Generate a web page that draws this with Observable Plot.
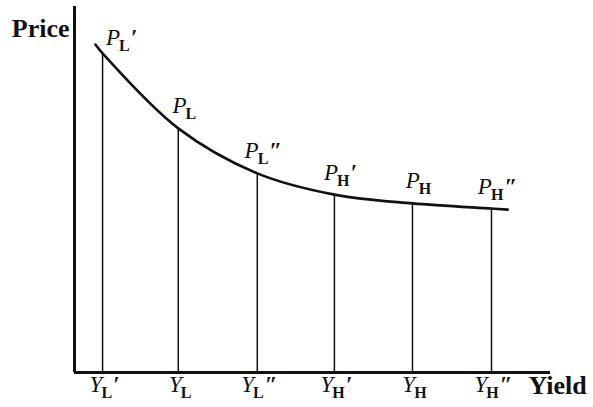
<!DOCTYPE html>
<html>
<head>
<meta charset="utf-8">
<script src="https://cdn.jsdelivr.net/npm/d3@7"></script>
<script src="https://cdn.jsdelivr.net/npm/@observablehq/plot@0.6"></script>
<style>
  html, body { margin: 0; padding: 0; background: white; }
  svg { display: block; }
</style>
</head>
<body>
<div id="chart"></div>
<script>
// Six marked yield levels and their prices on the curve
const yieldLevels = [0.59, 2.18, 3.84, 5.46, 7.10, 8.76];
const priceLevels = [8.72, 6.67, 5.44, 4.86, 4.62, 4.48];
// Curve trace (includes ends beyond the marked points)
const curveYield = [0.44, 0.59, 2.18, 3.84, 5.46, 7.10, 8.76, 9.10];
const curvePrice = [8.96, 8.72, 6.67, 5.44, 4.86, 4.62, 4.48, 4.45];
// Labels: first char = main letter, second = subscript, rest = primes
const priceLabels = ["PL\u2032", "PL", "PL\u2033", "PH\u2032", "PH", "PH\u2033"];
const yieldLabels = ["YL\u2032", "YL", "YL\u2033", "YH\u2032", "YH", "YH\u2033"];
const axisTitleY = "Price";
const axisTitleX = "Yield";

const points = yieldLevels.map((x, i) => ({x, p: priceLevels[i], pl: priceLabels[i], yl: yieldLabels[i], i}));
const curve = curveYield.map((x, i) => ({x, p: curvePrice[i]}));

const font = "'Liberation Serif', 'DejaVu Serif', serif";

const chart = Plot.plot({
  width: 593,
  height: 407,
  marginLeft: 74,
  marginRight: 43,
  marginTop: 6,
  marginBottom: 35,
  x: {domain: [0, 10], axis: null},
  y: {domain: [0, 10], axis: null},
  style: {fontFamily: font, background: "white", color: "#111"},
  marks: [
    Plot.ruleX(points, {x: "x", y1: 0, y2: "p", stroke: "#111", strokeWidth: 1.5}),
    Plot.line(curve, {x: "x", y: "p", curve: "catmull-rom", stroke: "#111", strokeWidth: 2.6}),
    Plot.ruleX([0], {stroke: "#111", strokeWidth: 3}),
    Plot.ruleY([0], {stroke: "#111", strokeWidth: 3}),
    Plot.text(points, {filter: d => d.i === 0, x: "x", y: "p", text: "pl", textAnchor: "middle", lineAnchor: "bottom", dx: 19, dy: -8, fontSize: 23, fill: "#111", fontFamily: font}),
    Plot.text(points, {filter: d => d.i > 0, x: "x", y: "p", text: "pl", textAnchor: "middle", lineAnchor: "bottom", dx: 6, dy: -15, fontSize: 23, fill: "#111", fontFamily: font}),
    Plot.text(points, {x: "x", y: 0, text: "yl", textAnchor: "middle", lineAnchor: "bottom", dx: 2, dy: 19, fontSize: 23, fill: "#111", fontFamily: font}),
    Plot.text([axisTitleY], {frameAnchor: "top-left", text: d => d, textAnchor: "end", lineAnchor: "bottom", dx: -5, dy: 30, fontSize: 26, fontWeight: "bold", fill: "#111", fontFamily: font}),
    Plot.text([axisTitleX], {frameAnchor: "bottom-right", text: d => d, textAnchor: "start", lineAnchor: "bottom", dx: -22, dy: 21, fontSize: 26, fontWeight: "bold", fill: "#111", fontFamily: font})
  ]
});

// Rich-text labels: italic main letter, bold subscript, primes
const NS = "http://www.w3.org/2000/svg";
chart.querySelectorAll("text").forEach(t => {
  const s = t.textContent;
  if (!/^[PY][LH]/.test(s)) return;
  t.textContent = "";
  const a = document.createElementNS(NS, "tspan");
  a.setAttribute("font-style", "italic");
  a.textContent = s[0];
  t.appendChild(a);
  const b = document.createElementNS(NS, "tspan");
  b.setAttribute("font-weight", "bold");
  b.setAttribute("font-size", "16");
  b.setAttribute("dy", "6");
  b.setAttribute("dx", "-1");
  b.textContent = s[1];
  t.appendChild(b);
  if (s.length > 2) {
    const c = document.createElementNS(NS, "tspan");
    c.setAttribute("dy", "-6");
    c.setAttribute("dx", "1");
    c.setAttribute("font-style", "italic");
    c.setAttribute("font-weight", "bold");
    c.textContent = s.slice(2);
    t.appendChild(c);
  }
});

document.getElementById("chart").appendChild(chart);
</script>
</body>
</html>
